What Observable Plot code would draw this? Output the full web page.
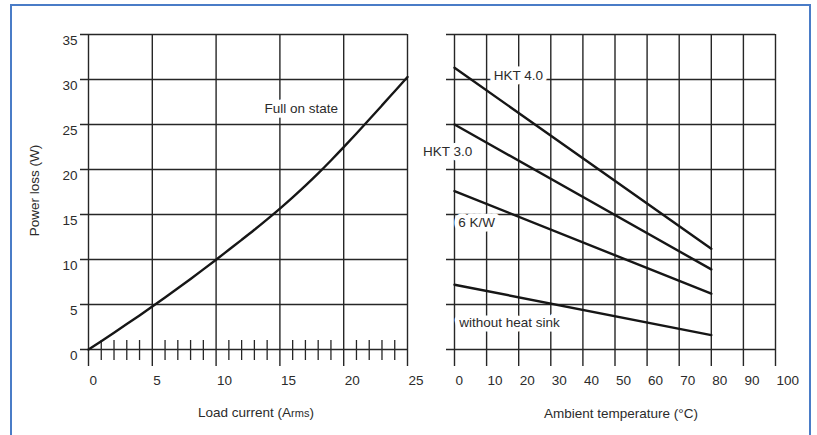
<!DOCTYPE html>
<html>
<head>
<meta charset="utf-8">
<script src="https://cdn.jsdelivr.net/npm/d3@7"></script>
<script src="https://cdn.jsdelivr.net/npm/@observablehq/plot@0.6"></script>
<style>
  html, body { margin: 0; padding: 0; background: #fff; }
  #wrap { position: relative; width: 817px; height: 435px; overflow: hidden; background: #fff; font-family: "Liberation Sans", Arial, sans-serif; }
  #frame { position: absolute; left: 10px; top: 4px; width: 801px; height: 460px; border: 2px solid #4a7cc7; box-sizing: border-box; }
  .panel { position: absolute; top: 0; }
</style>
</head>
<body>
<div id="wrap"><div id="frame"></div></div>
<script>
// ---- Data ----
// Left panel: power loss vs load current (full on state)
const loadCurrent = [0,1,2,3,4,5,6,7,8,9,10,11,12,13,14,15,16,17,18,19,20,21,22,23,24,25];
const powerLossFull = [0,0.93,1.87,2.82,3.79,4.78,5.78,6.8,7.84,8.9,9.98,11.08,12.18,13.3,14.46,15.66,16.91,18.21,19.57,21.0,22.48,24.0,25.55,27.12,28.7,30.28];
const xTicksLeft = [0,5,10,15,20,25];
const xMinorLeft = [1,2,3,4,6,7,8,9,11,12,13,14,16,17,18,19,21,22,23,24];
const yTicks = [0,5,10,15,20,25,30,35];

// Right panel: power loss vs ambient temperature
const ambientTemp = [0, 80];
const seriesNames = ["HKT 4.0", "HKT 3.0", "6 K/W", "without heat sink"];
const lossAtStart = [31.3, 25.0, 17.6, 7.2];
const lossAtEnd = [11.2, 8.9, 6.2, 1.6];
const xTicksRight = [0,10,20,30,40,50,60,70,80,90,100];

// Label anchors (data units)
const labelX = [12.2, -9.8, 1.2, 1.5];
const labelY = [30.4, 21.95, 14.05, 3.0];

const leftTitle = "Load current (Arms)";
const rightTitle = "Ambient temperature (°C)";
const yTitle = "Power loss (W)";
const curveLabel = {x: 13.8, y: 26.8, text: "Full on state"};

// ---- Build tables ----
const fullOn = loadCurrent.map((c, i) => ({x: c, y: powerLossFull[i]}));
const tempLines = [];
seriesNames.forEach((s, i) => {
  tempLines.push({series: s, x: ambientTemp[0], y: lossAtStart[i]});
  tempLines.push({series: s, x: ambientTemp[1], y: lossAtEnd[i]});
});
const tempLabels = seriesNames.map((s, i) => ({text: s, x: labelX[i], y: labelY[i]}));

const FONT = "Liberation Sans, Arial, sans-serif";
const GRID = "#262626";
const LINE = "#161616";
const TXT = "#2b2b2b";
const FS = 13.5;

const common = {
  height: 435,
  marginTop: 34,
  marginBottom: 86,
  y: {domain: [0, 35], axis: null},
  style: {background: "transparent", fontFamily: FONT, fontSize: FS + "px", color: TXT, overflow: "visible"}
};

const label = (data, opts) => Plot.text(data, {...opts, fill: TXT, stroke: "white", strokeWidth: 9, strokeLinejoin: "round", paintOrder: "stroke"});

const left = Plot.plot({
  ...common,
  width: 420,
  marginLeft: 88,
  marginRight: 13,
  x: {domain: [0, 25], axis: null},
  marks: [
    Plot.ruleX(xTicksLeft, {x: d => d, insetBottom: -17, stroke: GRID, strokeWidth: 1.4}),
    Plot.ruleX(xMinorLeft, {x: d => d, y1: 0, y2: 0, insetTop: -9, insetBottom: -11, stroke: GRID, strokeWidth: 1.3}),
    Plot.ruleY(yTicks, {y: d => d, insetLeft: -8, stroke: GRID, strokeWidth: 1.4}),
    Plot.line(fullOn, {x: "x", y: "y", stroke: LINE, strokeWidth: 2.4, curve: "monotone-x"}),
    Plot.text(yTicks, {x: 0, y: d => d, text: d => String(d), textAnchor: "end", dx: -11, dy: 6, fill: TXT, fontSize: FS}),
    Plot.text(xTicksLeft, {x: d => d, y: 0, text: d => String(d), textAnchor: "start", dx: 1, dy: 31, fill: TXT, fontSize: FS}),
    label([curveLabel], {x: "x", y: "y", text: "text", textAnchor: "start", fontSize: FS}),
    Plot.text([leftTitle], {frameAnchor: "bottom", lineAnchor: "middle", dx: 8, dy: 63.4, fill: TXT, fontSize: FS}),
    Plot.text([yTitle], {frameAnchor: "left", rotate: -90, textAnchor: "middle", lineAnchor: "middle", dx: -54, dy: -1.5, fill: TXT, fontSize: FS})
  ]
});

const right = Plot.plot({
  ...common,
  width: 397,
  marginLeft: 34,
  marginRight: 42,
  x: {domain: [0, 100], axis: null},
  marks: [
    Plot.ruleX(xTicksRight, {x: d => d, insetBottom: -17, stroke: GRID, strokeWidth: 1.4}),
    Plot.ruleY(yTicks, {y: d => d, insetLeft: -8, stroke: GRID, strokeWidth: 1.4}),
    Plot.line(tempLines, {x: "x", y: "y", z: "series", stroke: LINE, strokeWidth: 2.4}),
    Plot.text(xTicksRight, {x: d => d, y: 0, text: d => String(d), textAnchor: "start", dx: 1, dy: 31, fill: TXT, fontSize: FS}),
    label(tempLabels, {x: "x", y: "y", text: "text", textAnchor: "start", fontSize: FS}),
    Plot.text([rightTitle], {frameAnchor: "bottom", lineAnchor: "middle", dx: 6, dy: 64, fill: TXT, fontSize: FS})
  ]
});

left.classList.add("panel");
left.style.left = "0px";
right.classList.add("panel");
right.style.left = "420px";
const wrap = document.getElementById("wrap");
wrap.appendChild(left);
wrap.appendChild(right);

// Render "rms" smaller in the load-current title
d3.select(left).selectAll("text").each(function() {
  if (this.textContent === leftTitle) {
    const t = d3.select(this);
    t.text(null);
    t.append("tspan").text("Load current (A");
    t.append("tspan").attr("font-size", "11px").text("rms");
    t.append("tspan").text(")");
  }
});
</script>
</body>
</html>
